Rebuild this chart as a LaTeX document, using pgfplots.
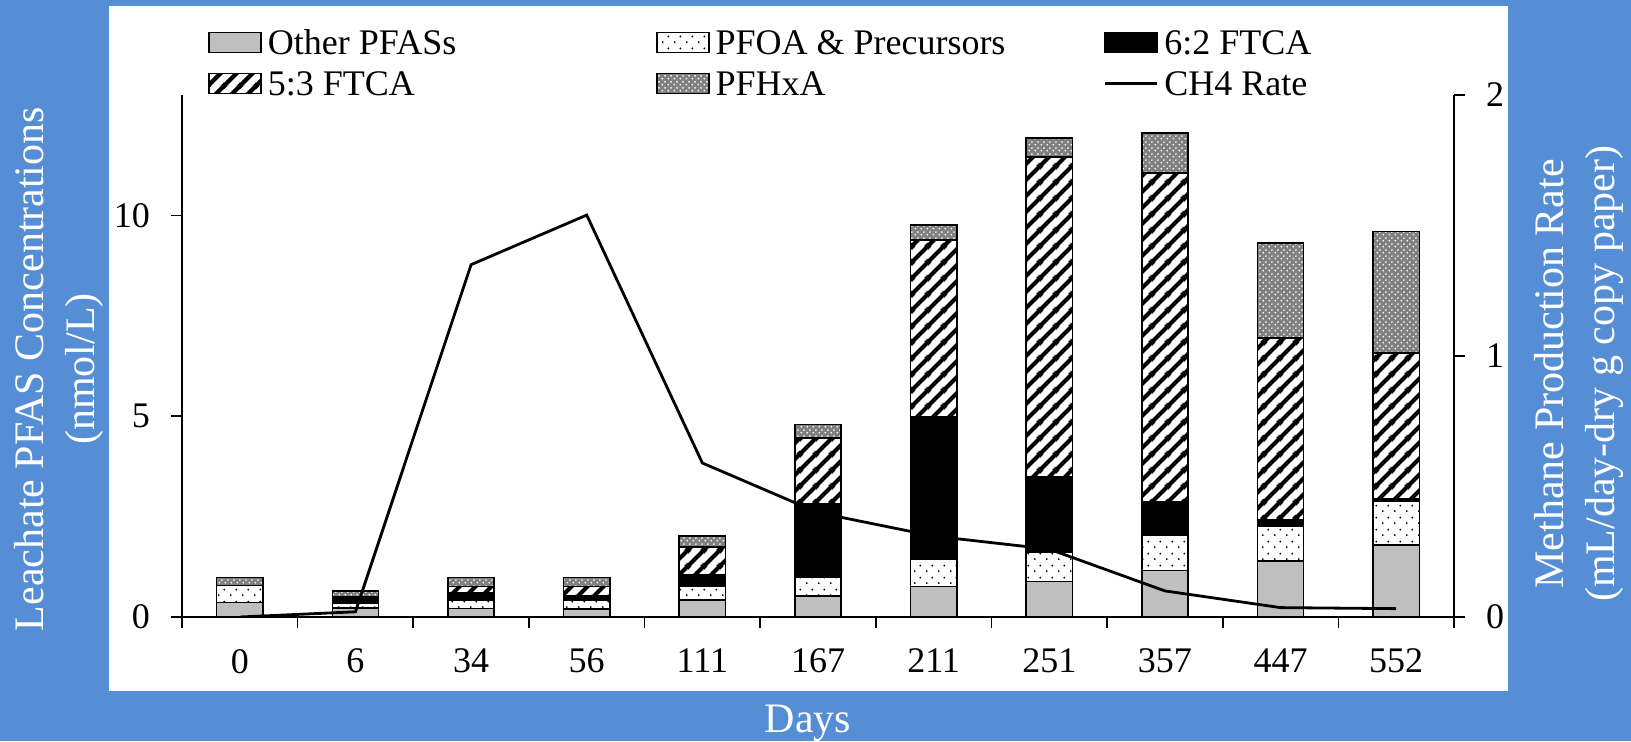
\documentclass[border=0pt]{standalone}
\usepackage{fontspec}
\setmainfont{Liberation Serif}
\usepackage{pgfplots}
\usepackage{pgfplotstable}
\pgfplotsset{compat=1.18}
\usetikzlibrary{patterns}

\definecolor{bgblue}{RGB}{85,142,213}
\definecolor{bargray}{RGB}{191,191,191}

% sparse staggered dots (PFOA)
\pgfdeclarepatternformonly{sparsedots}{\pgfqpoint{0pt}{0pt}}{\pgfqpoint{6pt}{6pt}}{\pgfqpoint{6pt}{6pt}}{%
  \pgfpathcircle{\pgfqpoint{1.5pt}{1.5pt}}{0.55pt}%
  \pgfpathcircle{\pgfqpoint{4.5pt}{4.5pt}}{0.55pt}%
  \pgfusepath{fill}}
% wide diagonal stripes (5:3 FTCA)
\pgfdeclarepatternformonly{widestripes}{\pgfqpoint{0pt}{0pt}}{\pgfqpoint{8pt}{8pt}}{\pgfqpoint{8pt}{8pt}}{%
  \pgfsetlinewidth{2.2pt}%
  \pgfpathmoveto{\pgfqpoint{-1pt}{-1pt}}\pgfpathlineto{\pgfqpoint{9pt}{9pt}}%
  \pgfpathmoveto{\pgfqpoint{-1pt}{7pt}}\pgfpathlineto{\pgfqpoint{1pt}{9pt}}%
  \pgfpathmoveto{\pgfqpoint{7pt}{-1pt}}\pgfpathlineto{\pgfqpoint{9pt}{1pt}}%
  \pgfusepath{stroke}}
% fine dots for the checkered PFHxA fill
\pgfdeclarepatternformonly{finedots}{\pgfqpoint{0pt}{0pt}}{\pgfqpoint{2.8pt}{2.8pt}}{\pgfqpoint{2.8pt}{2.8pt}}{%
  \pgfpathcircle{\pgfqpoint{0.7pt}{0.7pt}}{0.5pt}%
  \pgfpathcircle{\pgfqpoint{2.1pt}{2.1pt}}{0.5pt}%
  \pgfusepath{fill}}

\pgfplotsset{
  sOther/.style={draw=black, line width=0.8pt, fill=bargray},
  sPFOA/.style={draw=black, line width=0.8pt, pattern=sparsedots},
  sSixTwo/.style={draw=black, line width=0.8pt, fill=black},
  sFiveThree/.style={draw=black, line width=0.8pt, pattern=widestripes},
  sPFHxA/.style={draw=black, line width=0.8pt, fill=black!50,
    postaction={pattern=finedots, pattern color=white}},
  patchlegend/.style={legend image code/.code={\draw[##1] (0pt,-5pt) rectangle (26pt,5pt);}},
  linelegend/.style={legend image code/.code={\draw[##1] (0pt,0pt) -- (26pt,0pt);}},
  common/.style={
    at={(0pt,0pt)}, anchor=south west,
    scale only axis, width=636pt, height=261pt,
    xmin=-0.5, xmax=10.5,
    tick align=outside, major tick length=5.5pt,
    axis line style={line width=1pt},
    every tick/.style={black, line width=0.8pt},
    tick label style={font=\fontsize{18}{21.6}\selectfont},
    /pgf/number format/assume math mode=true,
    label style={font=\fontsize{21}{25.5}\selectfont, text=white, align=center},
  },
}

% Days index, PFAS groups (nmol/L), methane rate
\pgfplotstableread{
x other pfoa ftcasix ftcafive pfhxa ch4
0  0.36 0.42 0.00 0.00 0.20 0.000
1  0.22 0.13 0.10 0.05 0.15 0.020
2  0.21 0.22 0.17 0.16 0.22 1.350
3  0.20 0.23 0.10 0.23 0.22 1.540
4  0.43 0.33 0.29 0.70 0.27 0.590
5  0.52 0.48 1.82 1.64 0.33 0.400
6  0.76 0.69 3.53 4.41 0.38 0.310
7  0.88 0.73 1.88 7.97 0.47 0.260
8  1.16 0.87 0.85 8.18 1.00 0.100
9  1.40 0.86 0.16 4.53 2.36 0.036
10 1.80 1.08 0.06 3.63 3.03 0.032
}\datatable

\begin{document}
\begin{tikzpicture}
\fill[bgblue] (-91pt,-62pt) rectangle (724.5pt,308.5pt);
\fill[white] (-36.5pt,-37pt) rectangle (663pt,305.5pt);
\useasboundingbox (-91pt,-62pt) rectangle (724.5pt,308.5pt);

\begin{axis}[
  common,
  ymin=0, ymax=13,
  axis x line*=bottom, axis y line*=left,
  ybar stacked, bar width=0.4,
  xtick={-0.5,0.5,...,10.5}, xticklabels={},
  extra x ticks={0,1,...,10},
  extra x tick labels={0,6,34,56,111,167,211,251,357,447,552},
  extra x tick style={major tick length=0pt},
  xticklabel style={yshift=-12.5pt},
  yticklabel style={xshift=-7pt},
  ytick={0,5,10},
  xlabel={Days},
  xlabel style={at={(axis description cs:0.4921,-0.2203)}, anchor=base},
  ylabel={Leachate PFAS Concentrations\\(nmol/L)},
  ylabel style={at={(axis description cs:-0.0969,0.475)}, anchor=center},
]
\addplot[sOther] table[x=x, y=other] {\datatable};
\addplot[sPFOA] table[x=x, y=pfoa] {\datatable};
\addplot[sSixTwo] table[x=x, y=ftcasix] {\datatable};
\addplot[sFiveThree] table[x=x, y=ftcafive] {\datatable};
\addplot[sPFHxA] table[x=x, y=pfhxa] {\datatable};
\end{axis}

\begin{axis}[
  common,
  ymin=0, ymax=2,
  axis x line=none, axis y line*=right,
  ytick={0,1,2},
  yticklabel style={xshift=7pt},
  ylabel={Methane Production Rate\\(mL/day-dry g copy paper)},
  ylabel style={at={(axis description cs:1.098,0.466)}, anchor=center},
  legend columns=3,
  legend cell align=left,
  legend style={at={(axis description cs:0.0204,1.1245)}, anchor=north west,
    draw=none, fill=none, inner sep=0pt, row sep=8.5pt, column sep=0pt,
    nodes={inner sep=0pt, inner xsep=3pt, text width=191pt, align=flush left,
      text height=12pt, text depth=0pt, font=\fontsize{18}{21.6}\selectfont}},
]
\addlegendimage{sOther, patchlegend}
\addlegendentry{Other PFASs}
\addlegendimage{sPFOA, patchlegend}
\addlegendentry{PFOA \& Precursors}
\addlegendimage{sSixTwo, patchlegend}
\addlegendentry{6:2 FTCA}
\addlegendimage{sFiveThree, patchlegend}
\addlegendentry{5:3 FTCA}
\addlegendimage{sPFHxA, patchlegend}
\addlegendentry{PFHxA}
\addplot[black, line width=1.4pt, linelegend] table[x=x, y=ch4] {\datatable};
\addlegendentry{CH4 Rate}
\end{axis}
\end{tikzpicture}
\end{document}
